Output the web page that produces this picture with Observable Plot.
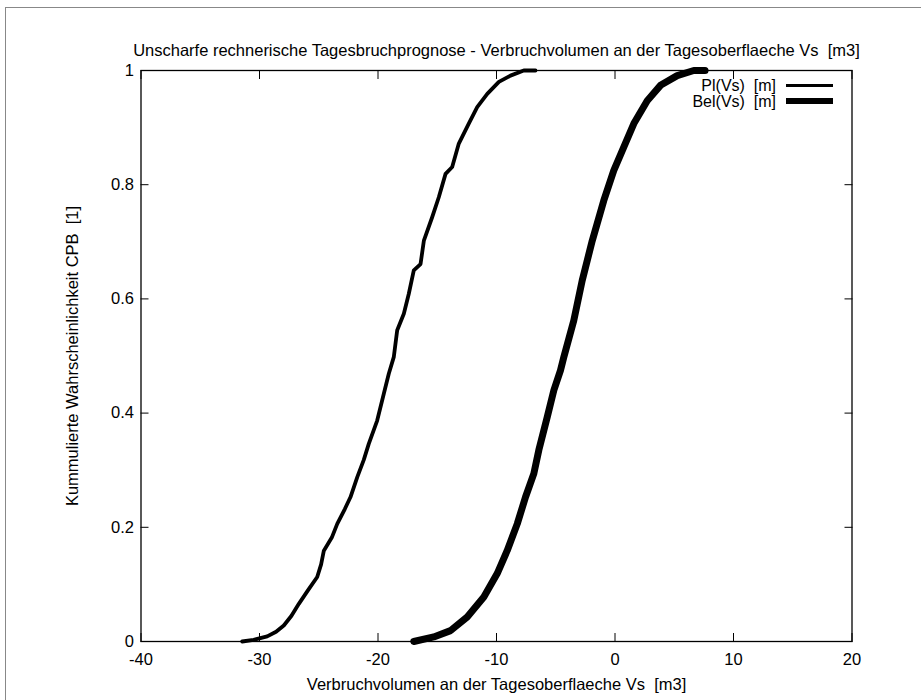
<!DOCTYPE html>
<html>
<head>
<meta charset="utf-8">
<script src="https://cdn.jsdelivr.net/npm/d3@7"></script>
<script src="https://cdn.jsdelivr.net/npm/@observablehq/plot@0.6"></script>
<style>
  html, body { margin: 0; padding: 0; background: #fff; }
  #wrap { position: relative; width: 921px; height: 700px; overflow: hidden; font-family: "Liberation Sans", Arial, sans-serif; }
  #border { position: absolute; left: 5px; top: 7px; width: 1000px; height: 1000px; border-top: 1px solid #888; border-left: 1px solid #888; }
  #legend { position: absolute; right: 88px; top: 78px; font-size: 16px; line-height: 15px; color: #000; }
  .row { display: flex; align-items: center; justify-content: flex-end; white-space: pre; height: 15.5px; }
  .lbl { display: inline-block; height: 15px; line-height: 15px; overflow: visible; }
  .sw { width: 47px; margin-left: 10px; background: #000; }
  svg text { white-space: pre; }
</style>
</head>
<body>
<div id="wrap"><div id="border"></div><div id="chart"></div><div id="legend"></div></div>
<script>
// Pl(Vs) curve: [volume, cumulative probability]
const plVs = [-31.46,-30.5,-29.35,-28.6,-27.95,-27.3,-26.68,-25.9,-25.13,-24.8,-24.57,-23.9,-23.44,-22.8,-22.32,-21.75,-21.2,-20.78,-20.07,-19.51,-19.09,-18.67,-18.38,-17.82,-17.40,-16.98,-16.41,-16.13,-15.43,-14.87,-14.30,-13.74,-13.18,-12.34,-11.63,-10.78,-9.80,-8.82,-7.70,-6.71];
const plP  = [0.0,0.003,0.009,0.017,0.028,0.045,0.066,0.09,0.113,0.135,0.159,0.182,0.206,0.232,0.253,0.288,0.318,0.346,0.387,0.434,0.469,0.498,0.545,0.574,0.609,0.650,0.661,0.702,0.743,0.778,0.819,0.831,0.872,0.907,0.936,0.959,0.980,0.991,1.0,1.0];
// Bel(Vs) curve
const belVs = [-16.98,-15.29,-13.88,-12.47,-11.07,-9.94,-9.10,-8.25,-7.55,-6.85,-6.43,-5.72,-5.16,-4.60,-4.32,-3.48,-2.77,-1.92,-0.95,-0.10,0.74,1.59,2.72,3.84,5.25,6.65,7.6];
const belP  = [0.0,0.008,0.019,0.043,0.078,0.119,0.159,0.206,0.253,0.294,0.335,0.393,0.440,0.475,0.498,0.562,0.632,0.702,0.772,0.825,0.866,0.907,0.947,0.974,0.991,1.0,1.0];
const xTicks = [-40,-30,-20,-10,0,10,20];
const yTicks = [0,0.2,0.4,0.6,0.8,1];
const yTickLabels = ["0","0.2","0.4","0.6","0.8","1"];
const seriesNames = ["Pl(Vs)  [m]", "Bel(Vs)  [m]"];
const title = "Unscharfe rechnerische Tagesbruchprognose - Verbruchvolumen an der Tagesoberflaeche Vs  [m3]";
const xLabel = "Verbruchvolumen an der Tagesoberflaeche Vs  [m3]";
const yLabel = "Kummulierte Wahrscheinlichkeit CPB  [1]";

const pl = plVs.map((v, i) => ({v, p: plP[i]}));
const bel = belVs.map((v, i) => ({v, p: belP[i]}));

const FS = 16.5;
const chart = Plot.plot({
  width: 921,
  height: 700,
  marginLeft: 140.5,
  marginRight: 69.5,
  marginTop: 70,
  marginBottom: 59,
  style: {fontFamily: "'Liberation Sans', Arial, sans-serif", fontSize: FS + "px", color: "#000", background: "#fff"},
  x: {domain: [-40, 20]},
  y: {domain: [0, 1]},
  marks: [
    Plot.frame({stroke: "#000", strokeWidth: 1.3}),
    Plot.axisX({ticks: xTicks, anchor: "bottom", tickSize: 0, tickPadding: 12, label: null, tickFormat: d => String(d), fontSize: FS}),
    Plot.axisX({ticks: xTicks, anchor: "bottom", tickSize: -8, text: null, label: null}),
    Plot.axisX({ticks: xTicks, anchor: "top", tickSize: -8, text: null, label: null}),
    Plot.axisY({ticks: yTicks, anchor: "left", tickSize: 0, tickPadding: 7, label: null, tickFormat: (d, i) => yTickLabels[i], fontSize: FS}),
    Plot.axisY({ticks: yTicks, anchor: "left", tickSize: -8, text: null, label: null}),
    Plot.axisY({ticks: yTicks, anchor: "right", tickSize: -8, text: null, label: null}),
    Plot.line(pl, {x: "v", y: "p", stroke: "#000", strokeWidth: 3.8, strokeLinejoin: "round", strokeLinecap: "round"}),
    Plot.line(bel, {x: "v", y: "p", stroke: "#000", strokeWidth: 7, strokeLinejoin: "round", strokeLinecap: "round"}),
    Plot.text([title], {frameAnchor: "top", textAnchor: "middle", dy: -26, fontSize: FS}),
    Plot.text([xLabel], {frameAnchor: "bottom", textAnchor: "middle", dy: 48, fontSize: FS}),
    Plot.text([yLabel], {frameAnchor: "left", textAnchor: "middle", dx: -68, rotate: -90, fontSize: FS})
  ]
});
document.getElementById("chart").appendChild(chart);

const legend = document.getElementById("legend");
seriesNames.forEach((name, i) => {
  const row = document.createElement("div");
  row.className = "row";
  const t = document.createElement("span");
  t.className = "lbl";
  t.textContent = name;
  const sw = document.createElement("span");
  sw.className = "sw";
  sw.style.height = (i === 0 ? 3 : 6) + "px";
  row.appendChild(t);
  row.appendChild(sw);
  legend.appendChild(row);
});
</script>
</body>
</html>
